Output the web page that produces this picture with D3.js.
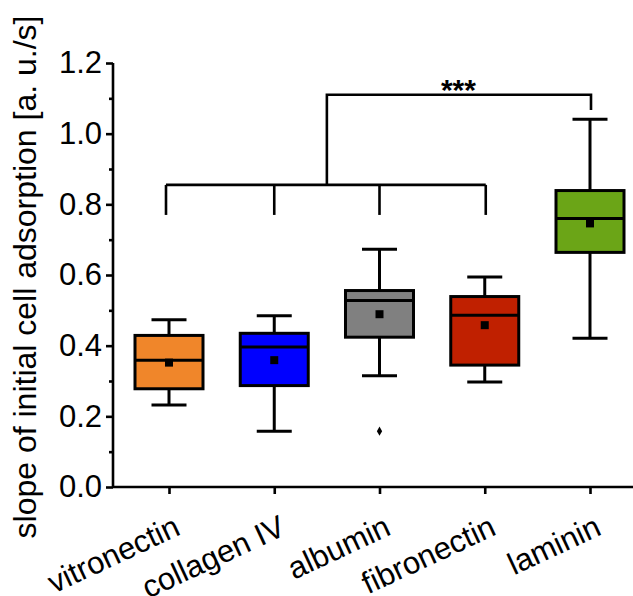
<!DOCTYPE html>
<html>
<head>
<meta charset="utf-8">
<script src="https://cdn.jsdelivr.net/npm/d3@7"></script>
<style>
  body { margin: 0; background: #fff; }
  svg { display: block; font-family: Arial, "Liberation Sans", sans-serif; }
</style>
</head>
<body>
<div id="chart"></div>
<script>
// box plot data
const categories = ['vitronectin', 'collagen IV', 'albumin', 'fibronectin', 'laminin'];
const colors = ['#F0862A', '#0000FF', '#808080', '#C02000', '#6BA517'];
const whiskerLow  = [0.232, 0.158, 0.315, 0.297, 0.421];
const q1          = [0.278, 0.287, 0.424, 0.345, 0.664];
const median      = [0.359, 0.396, 0.528, 0.486, 0.760];
const q3          = [0.429, 0.435, 0.556, 0.539, 0.839];
const whiskerHigh = [0.473, 0.485, 0.673, 0.594, 1.041];
const mean        = [0.352, 0.359, 0.489, 0.458, 0.746];
const outliers    = [[], [], [0.158], [], []];

const yTicks = [0, 0.2, 0.4, 0.6, 0.8, 1.0, 1.2];
const yMinorTicks = [0.1, 0.3, 0.5, 0.7, 0.9, 1.1];

// significance bracket levels (data units)
const groupLow = ['vitronectin', 'collagen IV', 'albumin', 'fibronectin'];
const bracketLowY = 0.855, bracketLowEnd = 0.77;
const bracketHighY = 1.11, bracketHighEnd = 1.067;
const sigLabel = '***';

const width = 633, height = 596;
const margin = { top: 63, right: 0, bottom: 109, left: 113 };

const svg = d3.select('#chart')
  .append('svg')
  .attr('width', width)
  .attr('height', height);

const x = d3.scalePoint().domain(categories).range([169, 590]);
const y = d3.scaleLinear().domain([0, 1.2]).range([height - margin.bottom, margin.top]);

const boxW = 68, capW = 35;

// axes
const yAxis = svg.append('g')
  .attr('transform', `translate(${margin.left},0)`)
  .call(d3.axisLeft(y).tickValues(yTicks).tickFormat(d3.format('.1f')).tickSize(7).tickPadding(4));
yAxis.select('.domain').attr('d', `M0,${y(1.2)}V${y(0)}`);

svg.append('g')
  .attr('transform', `translate(${margin.left},0)`)
  .call(d3.axisLeft(y).tickValues(yMinorTicks).tickFormat('').tickSize(4))
  .select('.domain').remove();

const xAxis = svg.append('g')
  .attr('transform', `translate(0,${y(0)})`)
  .call(d3.axisBottom(x).tickSize(7).tickFormat(''));
xAxis.select('.domain').attr('d', `M${margin.left},0H${width}`);

svg.selectAll('.domain, .tick line')
  .attr('stroke', '#000')
  .attr('stroke-width', 2.6);

yAxis.selectAll('.tick text')
  .attr('font-size', 31)
  .attr('fill', '#000')
  .attr('font-family', 'Arial, "Liberation Sans", sans-serif');

// rotated category labels
svg.append('g')
  .selectAll('text')
  .data(categories)
  .join('text')
  .attr('transform', d => `translate(${x(d) + 13},${y(0) + 47}) rotate(-25)`)
  .attr('text-anchor', 'end')
  .attr('font-size', 31)
  .text(d => d);

// y axis title
svg.append('text')
  .attr('transform', 'rotate(-90)')
  .attr('x', -277)
  .attr('y', 36)
  .attr('text-anchor', 'middle')
  .attr('font-size', 32)
  .text('slope of initial cell adsorption [a. u./s]');

// boxes
const boxes = svg.append('g')
  .selectAll('g')
  .data(categories)
  .join('g');

boxes.append('line')
  .attr('x1', d => x(d)).attr('x2', d => x(d))
  .attr('y1', (d, i) => y(whiskerLow[i])).attr('y2', (d, i) => y(q1[i]));
boxes.append('line')
  .attr('x1', d => x(d)).attr('x2', d => x(d))
  .attr('y1', (d, i) => y(q3[i])).attr('y2', (d, i) => y(whiskerHigh[i]));
boxes.append('line')
  .attr('x1', d => x(d) - capW / 2).attr('x2', d => x(d) + capW / 2)
  .attr('y1', (d, i) => y(whiskerLow[i])).attr('y2', (d, i) => y(whiskerLow[i]));
boxes.append('line')
  .attr('x1', d => x(d) - capW / 2).attr('x2', d => x(d) + capW / 2)
  .attr('y1', (d, i) => y(whiskerHigh[i])).attr('y2', (d, i) => y(whiskerHigh[i]));
boxes.append('rect')
  .attr('x', d => x(d) - boxW / 2)
  .attr('width', boxW)
  .attr('y', (d, i) => y(q3[i]))
  .attr('height', (d, i) => y(q1[i]) - y(q3[i]))
  .attr('fill', (d, i) => colors[i]);
boxes.append('line')
  .attr('x1', d => x(d) - boxW / 2).attr('x2', d => x(d) + boxW / 2)
  .attr('y1', (d, i) => y(median[i])).attr('y2', (d, i) => y(median[i]));
boxes.selectAll('line, rect')
  .attr('stroke', '#000')
  .attr('stroke-width', 3);

boxes.append('rect')
  .attr('x', d => x(d) - 4)
  .attr('y', (d, i) => y(mean[i]) - 4)
  .attr('width', 8).attr('height', 8)
  .attr('fill', '#000');

boxes.selectAll('path.outlier')
  .data((d, i) => outliers[i].map(v => ({ cat: d, v: v })))
  .join('path')
  .attr('class', 'outlier')
  .attr('d', d3.symbol(d3.symbolDiamond, 24))
  .attr('transform', d => `translate(${x(d.cat)},${y(d.v)})`)
  .attr('fill', '#000');

// significance brackets
const lowMid = (x(groupLow[0]) + x(groupLow[groupLow.length - 1])) / 2;
const br = svg.append('g')
  .attr('fill', 'none')
  .attr('stroke', '#000')
  .attr('stroke-width', 2.6);

br.append('line')
  .attr('x1', x(groupLow[0]) - 3).attr('x2', x(groupLow[groupLow.length - 1]) + 1)
  .attr('y1', y(bracketLowY)).attr('y2', y(bracketLowY));
br.selectAll('line.drop')
  .data(groupLow)
  .join('line')
  .attr('class', 'drop')
  .attr('x1', (d, i) => x(d) - (i === 0 ? 3 : 0) + (i === groupLow.length - 1 ? 1 : 0))
  .attr('x2', (d, i) => x(d) - (i === 0 ? 3 : 0) + (i === groupLow.length - 1 ? 1 : 0))
  .attr('y1', y(bracketLowY)).attr('y2', y(bracketLowEnd));
br.append('path')
  .attr('d', `M${lowMid},${y(bracketLowY)}V${y(bracketHighY)}H${x('laminin') + 1}V${y(bracketHighEnd)}`);

svg.append('text')
  .attr('x', (lowMid + x('laminin')) / 2)
  .attr('y', y(bracketHighY) + 5)
  .attr('text-anchor', 'middle')
  .attr('font-size', 30)
  .attr('font-weight', 'bold')
  .text(sigLabel);
</script>
</body>
</html>
